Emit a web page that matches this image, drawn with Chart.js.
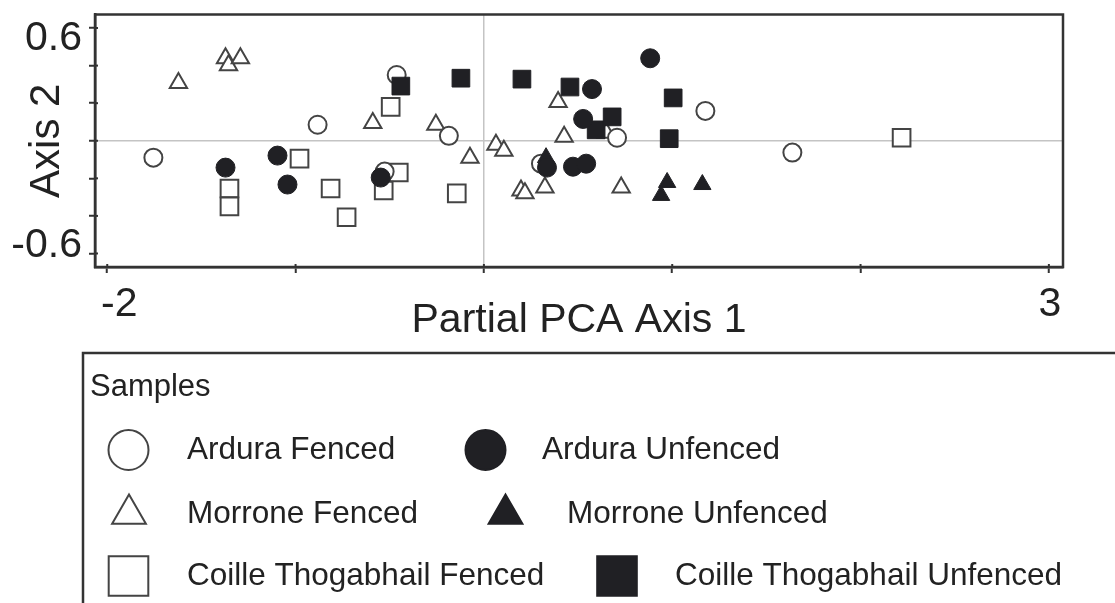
<!DOCTYPE html>
<html>
<head>
<meta charset="utf-8">
<script src="https://cdn.jsdelivr.net/npm/chart.js@4.4.1/dist/chart.umd.min.js"></script>
<style>
  html, body { margin: 0; padding: 0; background: #fff; }
  #wrap { position: relative; width: 1115px; height: 603px; }
</style>
</head>
<body>
<div id="wrap"><canvas id="main-chart"></canvas></div>
<script>
// values
const arduraFenced = [
	[-1.755, -0.09], [-0.883, 0.085], [-0.463, 0.35], [-0.186, 0.026], [-0.527, -0.164],
	[0.303, -0.122], [0.707, 0.016], [1.176, 0.159], [1.638, -0.063]
];
const arduraUnfenced = [
	[-1.372, -0.143], [-1.096, -0.079], [-1.043, -0.233], [-0.548, -0.196], [0.883, 0.439],
	[0.574, 0.275], [0.527, 0.116], [0.335, -0.143], [0.473, -0.138], [0.543, -0.122]
];
const morroneFenced = [
	[-1.622, 0.307], [-1.372, 0.439], [-1.356, 0.402], [-1.293, 0.439], [-0.59, 0.095],
	[-0.255, 0.085], [-0.074, -0.09], [0.064, -0.021], [0.106, -0.053], [0.197, -0.265],
	[0.218, -0.28], [0.324, -0.249], [0.394, 0.206], [0.426, 0.021], [0.729, -0.249],
	[0.649, 0.042]
];
const morroneUnfenced = [
	[0.33, -0.09], [0.973, -0.222], [0.941, -0.291], [1.16, -0.233]
];
const coilleFenced = [
	[-1.351, -0.254], [-1.351, -0.349], [-0.979, -0.095], [-0.814, -0.254], [-0.729, -0.407],
	[-0.495, 0.18], [-0.452, -0.169], [-0.532, -0.265], [-0.144, -0.28], [2.218, 0.016]
];
const coilleUnfenced = [
	[-0.441, 0.291], [-0.122, 0.333], [0.202, 0.328], [0.457, 0.286], [1.005, 0.228],
	[0.984, 0.011], [0.596, 0.058], [0.681, 0.127]
];

const xTicks = [-2, -1, 0, 1, 2, 3];
const xTickLabels = ['-2', '', '', '', '', '3'];
const yTicks = [-0.6, -0.4, -0.2, 0, 0.2, 0.4, 0.6];
const yTickLabels = ['-0.6', '', '', '', '', '', '0.6'];

const legendTitle = 'Samples';
const legendNames = [
	'Ardura Fenced', 'Ardura Unfenced',
	'Morrone Fenced', 'Morrone Unfenced',
	'Coille Thogabhail Fenced', 'Coille Thogabhail Unfenced'
];

const INK = '#202024';
const LINE = '#444';
const FONT = '"Liberation Sans", Arial, sans-serif';

function toPoints(arr) {
	return arr.map(p => ({x: p[0], y: p[1]}));
}

function openSet(label, data, style, r) {
	return {
		label: label, data: toPoints(data), pointStyle: style, pointRadius: r,
		backgroundColor: '#fff', borderColor: LINE, borderWidth: 2, order: 2
	};
}
function filledSet(label, data, style, r) {
	return {
		label: label, data: toPoints(data), pointStyle: style, pointRadius: r,
		backgroundColor: INK, borderColor: INK, borderWidth: 1, order: 1
	};
}

// legend layout: [symbol x, text x, row y]
const legendSlots = [
	[128.5, 187, 450], [485.5, 542, 450],
	[129, 187, 514], [505.5, 567, 514],
	[128.5, 187, 576], [617, 675, 576]
];
const legendStyles = [
	['circle', 20, false], ['circle', 20, true],
	['triangle', 19.5, false], ['triangle', 19.5, true],
	['rect', 28, false], ['rect', 28, true]
];

const framePlugin = {
	id: 'frame',
	beforeDatasetsDraw(chart) {
		const {ctx, chartArea: a} = chart;
		const xs = chart.scales.x, ys = chart.scales.y;
		ctx.save();
		ctx.strokeStyle = '#333';
		ctx.lineWidth = 2.5;
		ctx.strokeRect(a.left, a.top, a.right - a.left, a.bottom - a.top);
		// short tick stubs inside the frame
		ctx.lineWidth = 2;
		xTicks.forEach(v => {
			const px = xs.getPixelForValue(v);
			ctx.beginPath(); ctx.moveTo(px, a.bottom); ctx.lineTo(px, a.bottom - 3); ctx.stroke();
		});
		yTicks.forEach(v => {
			const py = ys.getPixelForValue(v);
			ctx.beginPath(); ctx.moveTo(a.left, py); ctx.lineTo(a.left + 3, py); ctx.stroke();
		});
		// tick labels, placed like the original (end labels pulled inward)
		ctx.fillStyle = '#222';
		ctx.font = '41px ' + FONT;
		ctx.textBaseline = 'middle';
		ctx.textAlign = 'right';
		yTicks.forEach((v, i) => {
			if (!yTickLabels[i]) return;
			const py = ys.getPixelForValue(v) + (v > 0 ? 11 : -8);
			ctx.fillText(yTickLabels[i], a.left - 13, py);
		});
		ctx.textAlign = 'center';
		xTicks.forEach((v, i) => {
			if (!xTickLabels[i]) return;
			const px = xs.getPixelForValue(v) + (v < 0 ? 12 : 1);
			ctx.fillText(xTickLabels[i], px, a.bottom + 38);
		});
		ctx.restore();
	},
	afterDraw(chart) {
		const ctx = chart.ctx;
		ctx.save();
		// legend box (right and bottom edges run off the page)
		ctx.strokeStyle = '#333';
		ctx.lineWidth = 2.5;
		ctx.strokeRect(83, 353, 1100, 300);
		ctx.fillStyle = '#222';
		ctx.textAlign = 'left';
		ctx.textBaseline = 'middle';
		ctx.font = '31px ' + FONT;
		ctx.fillText(legendTitle, 90, 387);
		ctx.font = '31.5px ' + FONT;
		legendNames.forEach((name, i) => {
			const [sx, tx, ry] = legendSlots[i];
			const [style, r, filled] = legendStyles[i];
			ctx.fillStyle = filled ? INK : '#fff';
			ctx.strokeStyle = filled ? INK : LINE;
			ctx.lineWidth = 2;
			Chart.helpers.drawPoint(ctx, {pointStyle: style, radius: r, rotation: 0, borderWidth: 2}, sx, ry);
			ctx.fillStyle = '#222';
			ctx.fillText(name, tx, ry);
		});
		ctx.restore();
	}
};

const gridColor = c => (c.tick && Math.abs(c.tick.value) < 1e-9) ? '#c4c4c4' : 'rgba(0,0,0,0)';

const ctx = document.getElementById('main-chart');
const chart = new Chart(ctx, {
	type: 'scatter',
	data: {
		datasets: [
			filledSet(legendNames[1], arduraUnfenced, 'circle', 9.5),
			filledSet(legendNames[3], morroneUnfenced, 'triangle', 10),
			filledSet(legendNames[5], coilleUnfenced, 'rect', 12.5),
			openSet(legendNames[0], arduraFenced, 'circle', 9),
			openSet(legendNames[2], morroneFenced, 'triangle', 10),
			openSet(legendNames[4], coilleFenced, 'rect', 12.5)
		]
	},
	options: {
		responsive: true,
		maintainAspectRatio: false,
		animation: false,
		events: [],
		layout: { padding: { left: 0, top: 13, right: 52, bottom: 256 } },
		plugins: { legend: { display: false }, tooltip: { enabled: false } },
		scales: {
			x: {
				type: 'linear',
				min: -2.065,
				max: 3.075,
				afterBuildTicks(scale) { scale.ticks = xTicks.map(v => ({value: v})); },
				afterFit(scale) { scale.height = 80; },
				ticks: { display: false },
				grid: { color: gridColor, lineWidth: 1.5, tickColor: '#333', tickLength: 6, tickWidth: 2 },
				border: { display: true, color: '#333', width: 2.5 },
				title: {
					display: true, text: 'Partial PCA Axis 1', color: '#222',
					font: { size: 41, family: FONT }, padding: { top: 0, bottom: 2 }
				}
			},
			y: {
				type: 'linear',
				min: -0.672,
				max: 0.672,
				afterBuildTicks(scale) { scale.ticks = yTicks.map(v => ({value: v})); },
				afterFit(scale) { scale.width = 95; },
				ticks: { display: false },
				grid: { color: gridColor, lineWidth: 1.5, tickColor: '#333', tickLength: 6, tickWidth: 2 },
				border: { display: true, color: '#333', width: 2.5 },
				title: {
					display: true, text: 'Axis 2', color: '#222',
					font: { size: 42, family: FONT }, padding: { top: 22, bottom: 0 }
				}
			}
		}
	},
	plugins: [framePlugin]
});
</script>
</body>
</html>
